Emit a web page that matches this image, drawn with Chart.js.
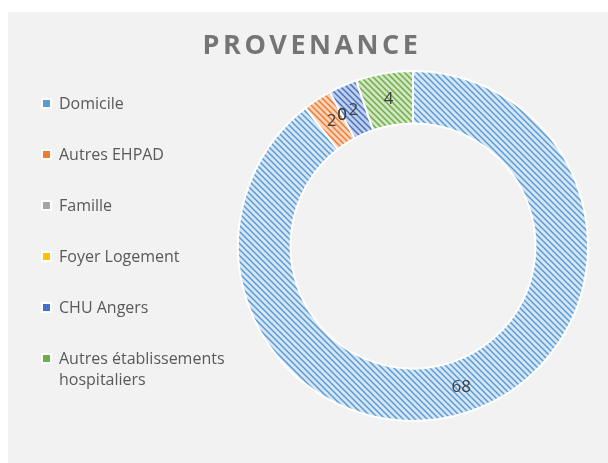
<!DOCTYPE html>
<html>
<head>
<meta charset="utf-8">
<script src="https://cdn.jsdelivr.net/npm/chart.js@4"></script>
<style>
  body { margin: 0; background: #fff; }
  #wrap { position: absolute; left: 8px; top: 12px; width: 600px; height: 451px; background: #f2f2f2; }
  canvas { display: block; }
</style>
</head>
<body>
<div id="wrap"><canvas id="c" width="600" height="451"></canvas></div>
<script>
const titleText = 'PROVENANCE';
const categories = ['Domicile', 'Autres EHPAD', 'Famille', 'Foyer Logement', 'CHU Angers', 'Autres établissements hospitaliers'];
const legendLines = [['Domicile'], ['Autres EHPAD'], ['Famille'], ['Foyer Logement'], ['CHU Angers'], ['Autres établissements', 'hospitaliers']];
const values = [68, 2, 0, 0, 2, 4];
const colors = ['#5B9BD5', '#ED7D31', '#A5A5A5', '#FFC000', '#4472C4', '#70AD47'];
const lightColors = ['#d6e6f5', '#f9d3bb', '#e2e2e2', '#ffe9a8', '#c2d0ea', '#d1e6c3'];

// hatched fill like the Excel pattern
function hatch(fg, bg) {
  const s = 6;
  const c = document.createElement('canvas');
  c.width = s; c.height = s;
  const x = c.getContext('2d');
  x.fillStyle = bg;
  x.fillRect(0, 0, s, s);
  x.strokeStyle = fg;
  x.lineWidth = 1.5;
  x.beginPath();
  x.moveTo(-1, -1); x.lineTo(s + 1, s + 1);
  x.moveTo(-1, s - 1); x.lineTo(1, s + 1);
  x.moveTo(s - 1, -1); x.lineTo(s + 1, 1);
  x.stroke();
  return x.createPattern(c, 'repeat');
}

const fills = colors.map((col, i) => hatch(col, lightColors[i]));

const extras = {
  id: 'extras',
  afterDraw(chart) {
    const ctx = chart.ctx;
    ctx.save();
    // title
    ctx.fillStyle = '#757575';
    ctx.font = 'bold 27px "Open Sans"';
    ctx.letterSpacing = '3.5px';
    ctx.textAlign = 'center';
    ctx.textBaseline = 'middle';
    ctx.fillText(titleText, 304, 34);
    ctx.letterSpacing = '0px';

    // legend
    ctx.textAlign = 'left';
    ctx.font = '16px "Open Sans"';
    legendLines.forEach((lines, i) => {
      const y = 92 + i * 51;
      ctx.fillStyle = '#ffffff';
      ctx.fillRect(33, y - 6, 11, 11);
      ctx.fillStyle = colors[i];
      ctx.fillRect(35, y - 4, 7, 7);
      ctx.fillStyle = '#595959';
      lines.forEach((t, j) => ctx.fillText(t, 51, y + j * 21));
    });

    // value labels
    ctx.font = '17px "Open Sans"';
    ctx.fillStyle = '#404040';
    ctx.textAlign = 'center';
    const meta = chart.getDatasetMeta(0);
    meta.data.forEach((arc, i) => {
      const p = arc.tooltipPosition();
      ctx.fillText(String(values[i]), p.x, p.y);
    });
    ctx.restore();
  }
};

new Chart(document.getElementById('c'), {
  type: 'doughnut',
  data: {
    labels: categories,
    datasets: [{
      data: values,
      backgroundColor: fills,
      borderColor: '#ffffff',
      borderWidth: 2
    }]
  },
  options: {
    responsive: false,
    animation: false,
    cutout: '70%',
    layout: { padding: { left: 229, right: 19, top: 58, bottom: 41 } },
    plugins: {
      legend: { display: false },
      tooltip: { enabled: false }
    }
  },
  plugins: [extras]
});
</script>
</body>
</html>
